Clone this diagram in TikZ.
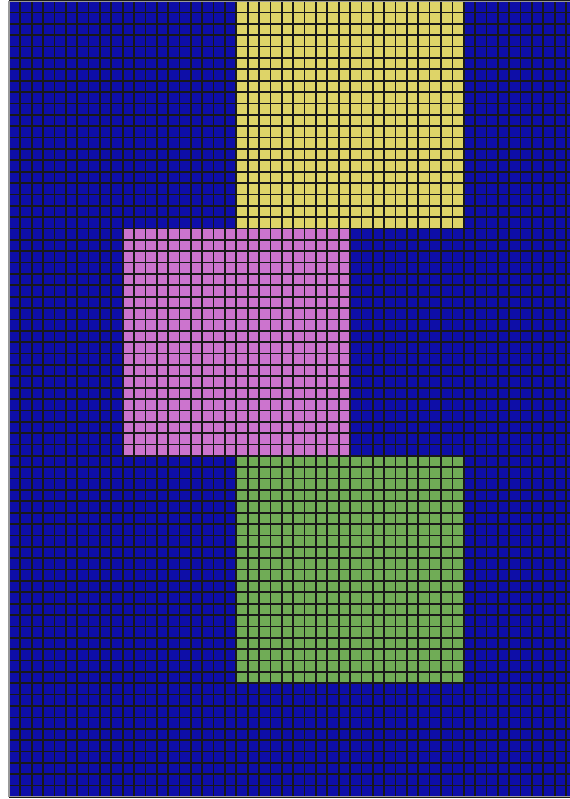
\documentclass[tikz,border=0pt]{standalone}
\usetikzlibrary{positioning}

\definecolor{cellblue}{RGB}{14,14,168}
\definecolor{cellyellow}{RGB}{222,212,104}
\definecolor{cellpink}{RGB}{204,116,206}
\definecolor{cellgreen}{RGB}{112,172,86}

\tikzset{
  gridline/.style={line width=1.3pt,draw=black!90,xstep=0.3cm,ystep=0.3cm},
  frameline/.style={line width=0.8pt,draw=gray!80}
}

\begin{document}
\begin{tikzpicture}[x=0.3cm,y=0.3cm]
  \useasboundingbox (-0.79,-0.18) rectangle (49.34,70.1);

  % background cells
  \fill[cellblue] (0,0) rectangle (50,70);

  % coloured blocks
  \foreach \bx/\by/\col in {20/50/cellyellow, 10/30/cellpink, 20/10/cellgreen}
    \fill[\col] (\bx,\by) rectangle ++(20,20);

  % mesh
  \draw[gridline] (0,0) grid (50,70);
  \draw[frameline] (0,0) rectangle (50,70);

\end{tikzpicture}
\end{document}
